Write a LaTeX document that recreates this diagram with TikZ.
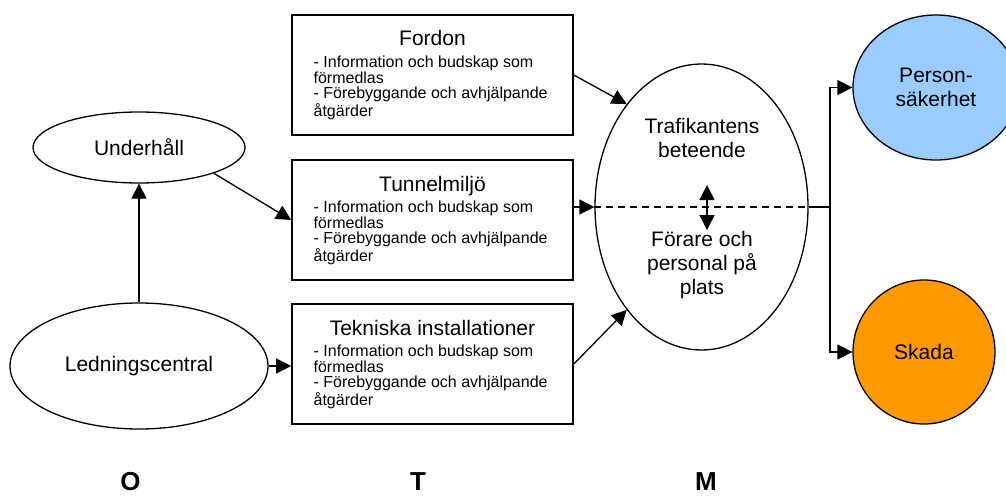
\documentclass[tikz,border=0pt]{standalone}
\usepackage{fontspec}
\setmainfont{Liberation Sans}
\usetikzlibrary{arrows.meta,shapes.geometric,calc}
\definecolor{personblue}{RGB}{153,204,255}
\definecolor{skadaorange}{RGB}{255,153,0}

\begin{document}
\begin{tikzpicture}[x=1pt,y=-1pt,
  line width=1.3pt,
  tip/.tip={Triangle[length=15pt,width=15pt]},
  arr/.style={-tip},
  panel/.style={draw, line width=1.6pt, minimum width=281pt, minimum height=120pt, inner sep=0pt},
  oval/.style={ellipse, draw, inner sep=0pt, font=\fontsize{21}{24}\selectfont, align=center},
  head/.style={font=\fontsize{21}{24}\selectfont, inner sep=0pt, anchor=base},
  body/.style={font=\fontsize{16}{15.4}\selectfont, align=left, inner sep=0pt, anchor=base west},
  letter/.style={font=\fontsize{26}{30}\selectfont\bfseries, inner sep=0pt, anchor=base},
]
\useasboundingbox (0,0) rectangle (1006,495);

% the three factor panels (body nodes are placed by the baseline of their last line)
\node[panel] (ford) at (432.5,75) {};
\node[head] (fordT) at (432.5,46) {Fordon};
\node[body] (fordB) at (313,116) {- Information och budskap som\\förmedlas\\- Förebyggande och avhjälpande\\åtgärder};

\node[panel] (tun) at (432.5,220) {};
\node[head] (tunT) at (432.5,191) {Tunnelmiljö};
\node[body] (tunB) at (313,261) {- Information och budskap som\\förmedlas\\- Förebyggande och avhjälpande\\åtgärder};

\node[panel] (tek) at (432.5,364) {};
\node[head] (tekT) at (432.5,335) {Tekniska installationer};
\node[body] (tekB) at (313,405) {- Information och budskap som\\förmedlas\\- Förebyggande och avhjälpande\\åtgärder};

% organisation side
\node[oval, minimum width=212pt, minimum height=71pt] (und) at (139,147.5) {Underhåll};
\node[oval, minimum width=258pt, minimum height=126pt] (led) at (139,366) {Ledningscentral};

% human side
\node[oval, minimum width=213pt, minimum height=286pt] (beh) at (701.5,207) {};
\node[head, align=center] (behT) at (702,157) {Trafikantens\\beteende};
\node[head, align=center] (behB) at (702,294) {Förare och\\personal på\\plats};

% outcomes
\node[oval, fill=personblue, minimum width=166pt, minimum height=145pt] (pers) at (936,87.5) {Person-\\säkerhet};
\node[oval, fill=skadaorange, minimum width=142pt, minimum height=144pt] (skada) at (924,352) {Skada};

% connectors
\draw[arr] (led.north) -- (und.south);
\draw[arr] (und.-19) -- (tun.west);
\draw[arr] (led.east) -- (led.east -| tek.west);
\draw[arr] (ford.east) -- (beh.126);
\draw[arr] (tek.east) -- (beh.234);
\draw[arr] (tun.east |- beh.west) -- (beh.west);
\draw[dash pattern=on 7pt off 5pt] (beh.west) -- (beh.east);
\coordinate (dUp) at (707,185);
\coordinate (dDn) at (707,230);
\draw[tip-tip] (dUp) -- (dDn);
\coordinate (split) at (830,207);
\draw (beh.east) -- (split);
\draw[arr] (split) |- (pers.west);
\draw[arr] (split) |- (skada.west);

% O, T, M
\node[letter] (lO) at (130.5,490) {O};
\node[letter] (lT) at (418,490) {T};
\node[letter] (lM) at (706,490) {M};
\end{tikzpicture}
\end{document}
